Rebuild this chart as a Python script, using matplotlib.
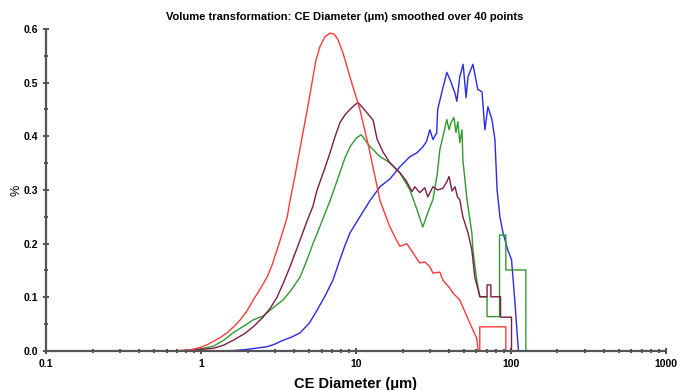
import matplotlib
matplotlib.use("Agg")
import matplotlib.pyplot as plt
from matplotlib.ticker import FixedLocator, FixedFormatter, MultipleLocator

plt.rcParams['font.family'] = ['Liberation Sans', 'DejaVu Sans']

# values (x in um, y in %)
red_x = [0.1, 0.65, 0.85, 1.0, 1.1, 1.2, 1.33, 1.47, 1.62, 1.79, 1.98, 2.17, 2.4, 2.67, 2.87, 3.09, 3.35,
         3.6, 3.75, 4.0, 4.5, 4.85, 5.2, 5.5, 5.85, 6.3, 6.8, 7.25, 7.65, 8.25, 9.15, 10.6, 12.3, 14.3,
         16.5, 18.0, 19.2, 21.3, 23.3, 25.8, 27.8, 30.0, 31.4, 34.8, 36.4, 40.4, 42.3, 46.8, 52.1, 56.9,
         60.2, 61.5, 63.0, 63.0, 92.8, 92.8, 1000]
red_y = [0, 0, 0.002, 0.007, 0.012, 0.018, 0.025, 0.034, 0.045, 0.058, 0.075, 0.095, 0.115, 0.138, 0.16, 0.188, 0.22,
         0.25, 0.28, 0.32, 0.40, 0.45, 0.50, 0.54, 0.567, 0.585, 0.592, 0.59, 0.58, 0.555, 0.51, 0.45, 0.37, 0.28,
         0.232, 0.21, 0.195, 0.20, 0.183, 0.164, 0.166, 0.157, 0.145, 0.147, 0.132, 0.117, 0.108, 0.095, 0.064, 0.039,
         0.024, 0.0, 0.0, 0.045, 0.045, 0.0, 0.0]

maroon_x = [0.1, 0.75, 1.0, 1.2, 1.4, 1.61, 1.9, 2.17, 2.51, 2.8, 3.09, 3.4, 3.75, 4.36, 4.8, 5.28, 5.61, 6.2,
            6.8, 7.3, 7.87, 8.5, 9.15, 9.7, 10.3, 11.3, 12.3, 12.9, 13.7, 15.0, 16.5, 19.2, 21.0, 23.0, 24.0, 25.8,
            27.8, 29.1, 31.4, 33.6, 36.4, 38.6, 39.9, 41.7, 43.6, 45.2, 46.8, 49.0, 52.9, 56.0, 58.5, 63.1, 70.2,
            70.2, 74.3, 74.3, 85.8, 85.8, 101, 101, 1000]
maroon_y = [0, 0, 0.003, 0.005, 0.011, 0.02, 0.032, 0.045, 0.063, 0.08, 0.10, 0.127, 0.157, 0.207, 0.24, 0.27, 0.30, 0.335,
            0.369, 0.398, 0.425, 0.44, 0.45, 0.457, 0.463, 0.45, 0.437, 0.43, 0.394, 0.37, 0.351, 0.332, 0.318, 0.297, 0.306,
            0.295, 0.304, 0.287, 0.306, 0.30, 0.303, 0.315, 0.325, 0.298, 0.306, 0.287, 0.282, 0.25, 0.22, 0.188, 0.138,
            0.101, 0.101, 0.123, 0.123, 0.101, 0.101, 0.063, 0.063, 0, 0]

green_x = [0.1, 0.75, 1.0, 1.2, 1.4, 1.61, 1.9, 2.17, 2.51, 2.9, 3.38, 3.85, 4.36, 4.8, 5.28, 6.0, 6.8, 7.87,
           8.5, 9.15, 10.0, 10.8, 12.3, 14.3, 16.5, 19.2, 22.3, 25.0, 27.0, 30.0, 31.4, 33.5, 34.8, 36.4, 38.6,
           39.9, 41.0, 42.9, 44.2, 45.5, 46.8, 48.4, 49.0, 52.1, 56.0, 56.9, 60.2, 63.1, 70.2, 70.2, 84.5, 84.5,
           92.8, 92.8, 125, 125, 1000]
green_y = [0, 0, 0.004, 0.009, 0.02, 0.034, 0.047, 0.058, 0.065, 0.08, 0.095, 0.115, 0.138, 0.168, 0.20, 0.24, 0.28, 0.332,
           0.36, 0.38, 0.396, 0.403, 0.381, 0.362, 0.351, 0.332, 0.30, 0.26, 0.231, 0.268, 0.282, 0.33, 0.375, 0.399, 0.431,
           0.412, 0.425, 0.435, 0.407, 0.427, 0.388, 0.412, 0.356, 0.282, 0.22, 0.188, 0.132, 0.101, 0.101, 0.064, 0.064,
           0.216, 0.216, 0.151, 0.151, 0, 0]

blue_x = [0.1, 1.5, 1.98, 2.67, 3.0, 3.38, 3.85, 4.36, 5.0, 5.61, 6.3, 7.1, 7.87, 8.5, 9.15, 10.6, 12.3, 14.3,
          16.5, 19.2, 22.3, 24.7, 27.0, 28.5, 30.0, 31.4, 33.2, 33.7, 35.9, 38.6, 40.4, 43.5, 44.8, 46.8, 49.2,
          51.4, 52.9, 56.9, 61.2, 65.1, 68.0, 71.1, 75.5, 78.9, 81.5, 85.0, 89.0, 95.6, 101, 106, 109, 112, 1000]
blue_y = [0, 0, 0.003, 0.008, 0.013, 0.02, 0.026, 0.034, 0.052, 0.076, 0.102, 0.132, 0.17, 0.197, 0.22, 0.25, 0.28, 0.306,
          0.32, 0.343, 0.362, 0.369, 0.38, 0.39, 0.412, 0.394, 0.406, 0.45, 0.483, 0.519, 0.506, 0.481, 0.465, 0.511, 0.534,
          0.472, 0.511, 0.534, 0.487, 0.483, 0.412, 0.455, 0.431, 0.394, 0.30, 0.25, 0.22, 0.188, 0.17, 0.095, 0.045, 0, 0]

x_ticks = [0.1, 1, 10, 100, 1000]
x_labels = ["0.1", "1", "10", "100", "1000"]

fig = plt.figure(figsize=(6.8, 3.9), dpi=100)
ax = fig.add_axes([0.068, 0.1, 0.911, 0.826])

ax.plot(blue_x, blue_y, color='#2a2ae8', lw=1)
ax.plot(green_x, green_y, color='#2f9a2f', lw=1)
ax.plot(maroon_x, maroon_y, color='#7d1d45', lw=1)
ax.plot(red_x, red_y, color='#ff3a3a', lw=1)

ax.set_xscale('log')
ax.set_xlim(0.1, 1000)
ax.set_ylim(0, 0.6)

ax.xaxis.set_major_locator(FixedLocator(x_ticks))
ax.xaxis.set_major_formatter(FixedFormatter(x_labels))
ax.yaxis.set_major_locator(MultipleLocator(0.1))
ax.yaxis.set_minor_locator(MultipleLocator(0.05))
ax.yaxis.set_major_formatter(plt.FuncFormatter(lambda v, p: f"{v:.1f}"))

for s in ['top', 'right']:
    ax.spines[s].set_visible(False)
for s in ['left', 'bottom']:
    ax.spines[s].set_color('#555555')
    ax.spines[s].set_linewidth(1.6)

ax.tick_params(which='both', direction='inout', color='#333333', width=1.2)
ax.tick_params(which='major', length=5, labelsize=7.5, pad=3)
ax.tick_params(which='minor', length=3)
for lbl in ax.get_xticklabels() + ax.get_yticklabels():
    lbl.set_fontweight('bold')

ax.set_xlabel("CE Diameter (\u03bcm)", fontsize=10.5, fontweight='bold', labelpad=6)
ax.set_ylabel("%", fontsize=9, labelpad=1)
fig.text(0.507, 0.956, "Volume transformation: CE Diameter (\u03bcm) smoothed over 40 points",
         ha='center', va='center', fontsize=8, fontweight='bold')

fig.savefig("out.png", dpi=100)
